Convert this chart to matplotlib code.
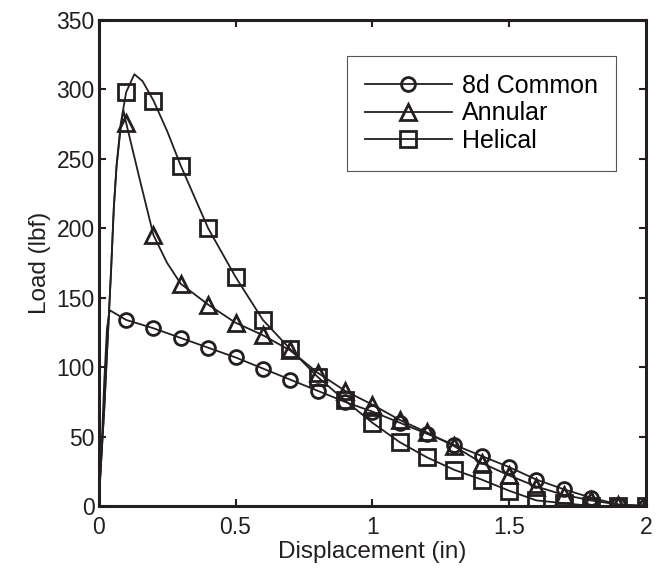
import numpy as np
import matplotlib.pyplot as plt

plt.rcParams['font.family'] = ['Liberation Sans', 'DejaVu Sans']

# datos (desplazamiento en pulgadas, carga en lbf)
disp_common = [0, 0.01, 0.02, 0.03, 0.04, 0.1, 0.2, 0.3, 0.4, 0.5, 0.6, 0.7, 0.8,
               0.9, 1.0, 1.1, 1.2, 1.3, 1.4, 1.5, 1.6, 1.7, 1.8, 1.9, 2.0]
load_common = [0, 40, 90, 128, 141, 134, 128, 121, 114, 107, 99, 91, 83,
               75, 68, 60, 52, 44, 36, 28, 19, 12, 6, 1, 0]

disp_annular = [0, 0.005, 0.02, 0.035, 0.045, 0.055, 0.065, 0.08, 0.09, 0.1, 0.15,
                0.2, 0.25, 0.3, 0.4, 0.5, 0.6, 0.7, 0.8, 0.9, 1.0, 1.1, 1.2, 1.3,
                1.4, 1.5, 1.6, 1.7, 1.8, 1.9, 2.0]
load_annular = [0, 20, 70, 130, 170, 215, 245, 272, 285, 276, 235,
                195, 175, 160, 145, 132, 123, 112, 96, 83, 73, 62, 53, 43,
                31, 22, 14, 8, 4, 1, 0]

disp_helical = [0, 0.005, 0.02, 0.035, 0.045, 0.055, 0.065, 0.08, 0.1, 0.13, 0.16,
                0.2, 0.25, 0.3, 0.4, 0.5, 0.6, 0.7, 0.8, 0.9, 1.0, 1.1, 1.2, 1.3,
                1.4, 1.5, 1.6, 1.7, 1.8, 1.9, 2.0]
load_helical = [0, 20, 70, 130, 170, 215, 245, 275, 298, 311, 306,
                292, 270, 245, 200, 165, 134, 113, 93, 76, 60, 46, 35, 26,
                19, 11, 4, 2, 0, 0, 0]

nombres = ['8d Common', 'Annular', 'Helical']
x_ticks = [0, 0.5, 1, 1.5, 2]
x_labels = ['0', '0.5', '1', '1.5', '2']
y_ticks = [0, 50, 100, 150, 200, 250, 300, 350]

marcadores = ['o', '^', 's']
tamanos = [10, 12, 11.5]
negro = '#231f20'


def marcas(x):
    # indices donde x es multiplo de 0.1 (sin el cero)
    return [i for i, v in enumerate(x) if v > 0 and np.isclose(v * 10, round(v * 10))]


fig = plt.figure(figsize=(6.63, 5.73), dpi=100)
ax = fig.add_axes([0.149, 0.117, 0.825, 0.848])

datos = [(disp_common, load_common), (disp_annular, load_annular),
         (disp_helical, load_helical)]
for (x, y), m, ms, nombre in zip(datos, marcadores, tamanos, nombres):
    ax.plot(x, y, color=negro, lw=1.3, marker=m, markersize=ms,
            mfc='none', mec=negro, mew=2.0, markevery=marcas(x), label=nombre)

ax.set_xlim(0, 2)
ax.set_ylim(0, 350)
ax.set_xticks(x_ticks, labels=x_labels)
ax.set_yticks(y_ticks)
ax.tick_params(direction='in', top=True, right=True, length=5, width=1.5,
               labelsize=16.5, colors=negro)
ax.tick_params(axis='x', pad=7)
ax.tick_params(axis='y', pad=3)
for s in ax.spines.values():
    s.set_linewidth(2.2)
    s.set_color(negro)

ax.set_xlabel('Displacement (in)', fontsize=17.5, color=negro, labelpad=2)
ax.set_ylabel('Load (lbf)', fontsize=17.5, color=negro, labelpad=4)

leg = ax.legend(loc='upper right', bbox_to_anchor=(0.945, 0.926), borderaxespad=0,
                fontsize=18, fancybox=False, framealpha=1, edgecolor='#555555',
                handlelength=3.5, borderpad=0.7, labelspacing=0.15,
                handletextpad=0.4)
leg.get_frame().set_linewidth(0.8)

plt.savefig('out.png', dpi=100)
plt.close()
